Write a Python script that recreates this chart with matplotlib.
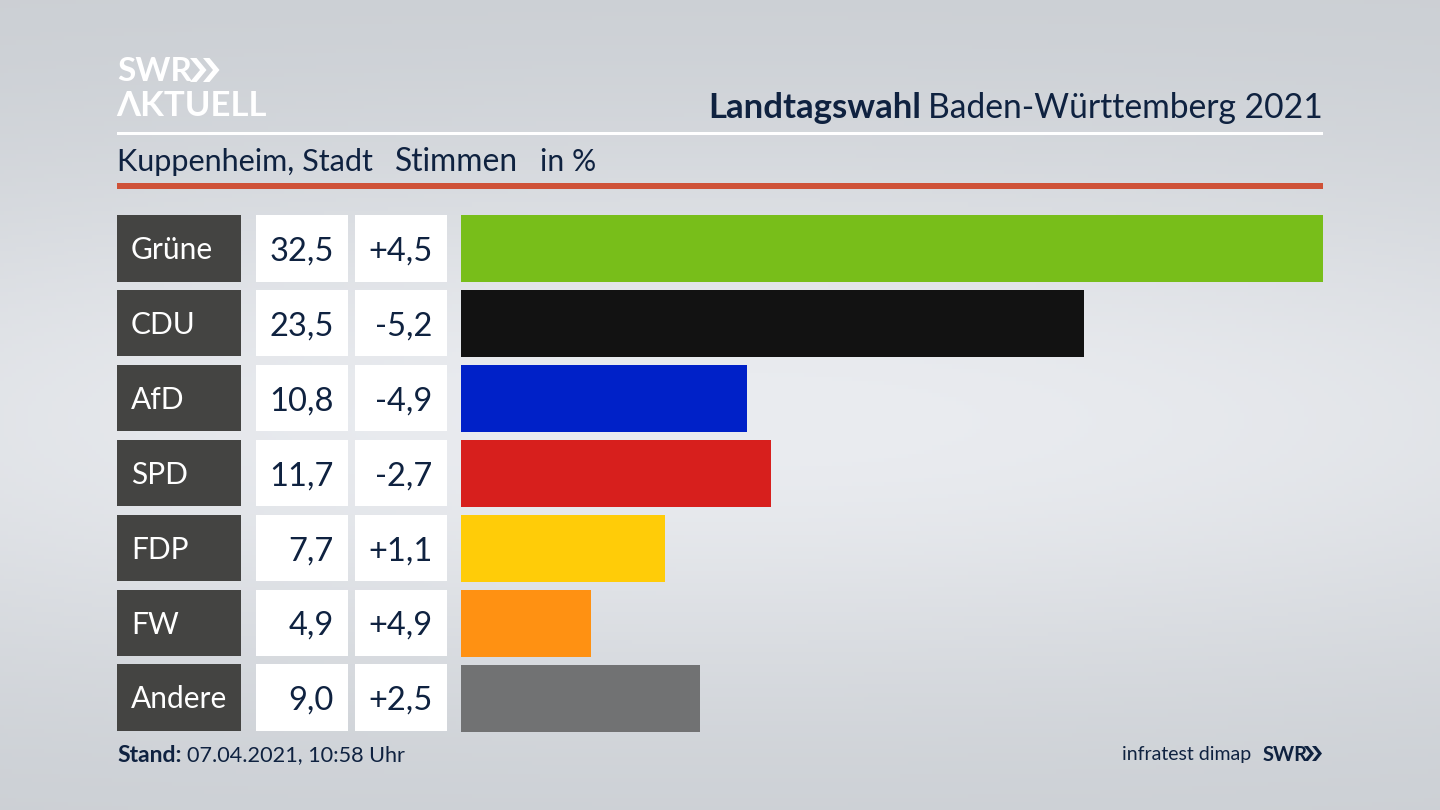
import matplotlib
matplotlib.use('Agg')
import matplotlib.pyplot as plt
import numpy as np
from matplotlib.patches import Rectangle, Polygon

plt.rcParams['font.family'] = ['Lato', 'DejaVu Sans']

parties = ['Grüne', 'CDU', 'AfD', 'SPD', 'FDP', 'FW', 'Andere']
votes = [32.5, 23.5, 10.8, 11.7, 7.7, 4.9, 9.0]
changes = ['+4,5', '-5,2', '-4,9', '-2,7', '+1,1', '+4,9', '+2,5']
colors = ['#78be1a', '#121212', '#0021c8', '#d71f1d', '#ffcc08', '#ff9112', '#717273']

navy = '#0f2240'
dark = '#444442'

fig = plt.figure(figsize=(14.4, 8.1), dpi=100)

# page in pixel coordinates, y pointing down
page = fig.add_axes([0, 0, 1, 1])
page.set_xlim(0, 1440)
page.set_ylim(810, 0)
page.axis('off')

# background glow, lighter in the middle
yy, xx = np.mgrid[0:1:200j, 0:1:360j]
glow = np.exp(-((yy - 0.52) / 0.33) ** 2) * (1 - 0.25 * ((xx - 0.5) / 0.5) ** 2)
shade = np.zeros(glow.shape + (3,))
for c, (lo, hi) in enumerate([(202, 234), (206, 236), (211, 240)]):
    shade[..., c] = (lo + (hi - lo) * glow) / 255
page.imshow(shade, extent=(0, 1440, 810, 0), aspect='auto', zorder=0)


def chevrons(ax, x, y, h, w, gap, stroke, color):
    for k in range(2):
        x0 = x + k * gap
        ax.add_patch(Polygon([(x0, y), (x0 + stroke, y), (x0 + stroke + w, y + h / 2),
                              (x0 + stroke, y + h), (x0, y + h), (x0 + w, y + h / 2)],
                             closed=True, fc=color, ec='none', zorder=3))


# SWR Aktuell logo
page.text(117, 81, 'SWR', color='white', fontsize=24, fontweight='bold', va='baseline', zorder=3)
chevrons(page, 190, 58, 24, 10, 13, 6.5, 'white')
page.text(116, 116, 'ΛKTUELL', color='white', fontsize=25, fontweight='bold', va='baseline', zorder=3)

# header
page.text(1323, 118, 'Baden-Württemberg 2021', color=navy, fontsize=24.2, ha='right', va='baseline', zorder=3)
page.text(921, 118, 'Landtagswahl', color=navy, fontsize=25, fontweight='bold', ha='right', va='baseline', zorder=3)
page.add_patch(Rectangle((117, 132), 1206, 3, fc='white', ec='none', zorder=2))
page.text(117, 171, 'Kuppenheim, Stadt', color=navy, fontsize=22.1, va='baseline', zorder=3)
page.text(395, 171, 'Stimmen', color=navy, fontsize=22.9, va='baseline', zorder=3)
page.text(540, 171, 'in %', color=navy, fontsize=21.7, va='baseline', zorder=3)
page.add_patch(Rectangle((117, 183), 1206, 6, fc='#cf5238', ec='none', zorder=2))

# table cells left of the bars
for i, party in enumerate(parties):
    top = 215 + i * 74.9
    mid = top + 33
    page.add_patch(Rectangle((117, top), 124, 66.5, fc=dark, ec='none', zorder=2))
    page.add_patch(Rectangle((256, top), 92, 66.5, fc='white', ec='none', zorder=2))
    page.add_patch(Rectangle((355, top), 92, 66.5, fc='white', ec='none', zorder=2))
    page.text(131, mid + 11, party, color='white', fontsize=21.5, va='baseline', zorder=3)
    page.text(333.5, mid + 12.5, f'{votes[i]:.1f}'.replace('.', ','), color=navy, fontsize=23.5,
              ha='right', va='baseline', zorder=3)
    page.text(432.5, mid + 12.5, changes[i], color=navy, fontsize=23.5, ha='right', va='baseline', zorder=3)

# footer
page.text(117, 761.5, 'Stand:', color=navy, fontsize=16.5, fontweight='bold', va='baseline', zorder=3)
page.text(187, 761.5, '07.04.2021, 10:58 Uhr', color=navy, fontsize=15.6, va='baseline', zorder=3)
page.text(1251, 760, 'infratest dimap', color=navy, fontsize=14, ha='right', va='baseline', zorder=3)
page.text(1263, 761, 'SWR', color=navy, fontsize=14.5, fontweight='bold', va='baseline', zorder=3)
chevrons(page, 1304, 746, 15, 6, 8, 4, navy)

# bars
ax = fig.add_axes([461 / 1440, 1 - 731.5 / 810, 862 / 1440, (731.5 - 215) / 810])
ax.patch.set_alpha(0)
ax.barh(range(len(parties)), votes, height=0.89, color=colors)
ax.set_xlim(0, 32.5)
ax.set_ylim(6.445, -0.445)
ax.axis('off')

fig.savefig('out.png', dpi=100)
